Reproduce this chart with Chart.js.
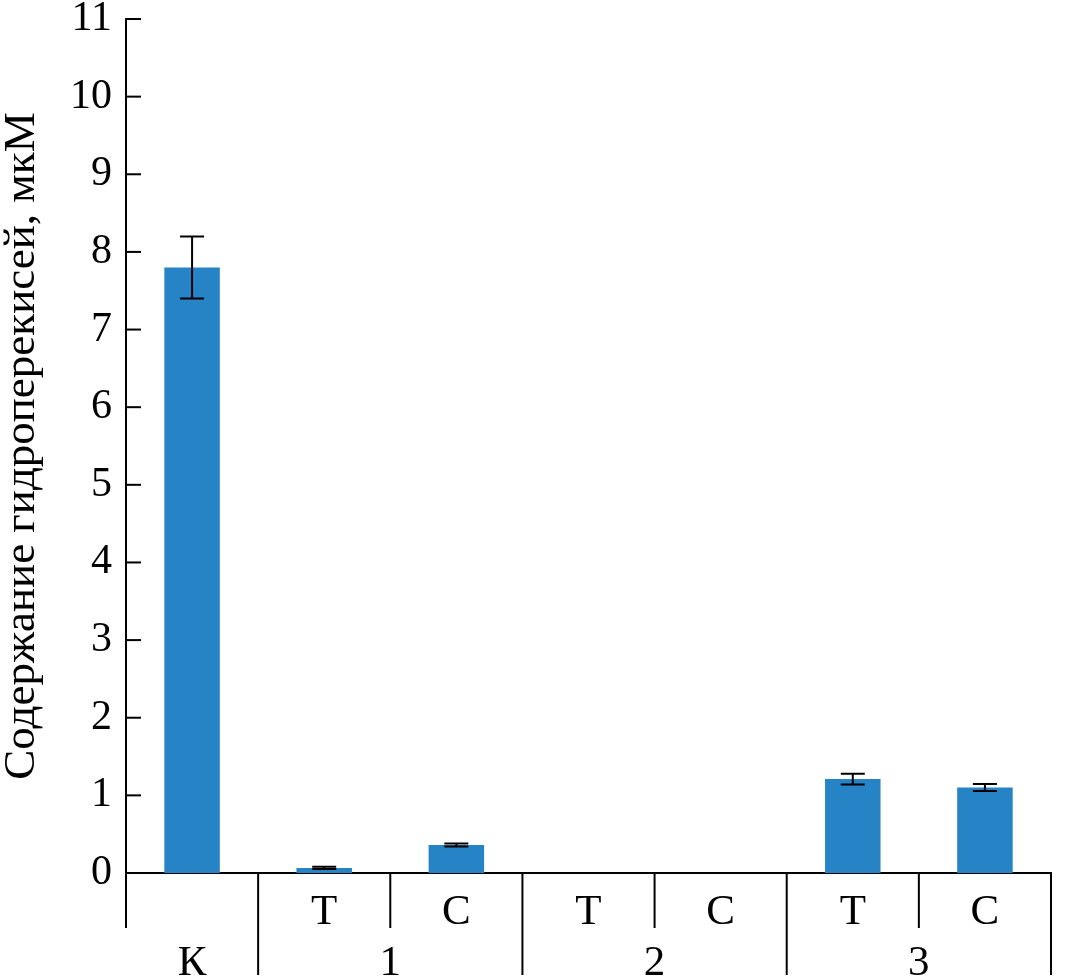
<!DOCTYPE html>
<html>
<head>
<meta charset="utf-8">
<script src="https://cdn.jsdelivr.net/npm/chart.js@4.4.1/dist/chart.umd.min.js"></script>
<style>
  html, body { margin: 0; padding: 0; background: #fff; }
  #wrap { width: 1069px; height: 980px; }
</style>
</head>
<body>
<div id="wrap"><canvas id="chart" width="1069" height="980"></canvas></div>
<script>
// data
const categories = ['', 'Т', 'С', 'Т', 'С', 'Т', 'С'];
const groups = ['К', '1', '2', '3'];
const groupSpans = [1, 2, 2, 2]; // how many categories each group covers
const values = [7.8, 0.065, 0.36, 0, 0, 1.21, 1.1];
const errors = [0.4, 0.015, 0.02, 0, 0, 0.07, 0.045];
const yTicks = [0, 1, 2, 3, 4, 5, 6, 7, 8, 9, 10, 11];
const yTitle = 'Содержание гидроперекисей, мкМ';

const FONT = '"Liberation Serif", "Times New Roman", serif';

const errorBars = {
  id: 'errorBars',
  afterDatasetsDraw(chart) {
    const { ctx, scales: { x, y } } = chart;
    ctx.save();
    ctx.strokeStyle = '#000';
    ctx.lineWidth = 2;
    values.forEach((v, i) => {
      if (!errors[i]) return;
      const cx = x.getPixelForValue(i);
      const top = y.getPixelForValue(v + errors[i]);
      const bot = y.getPixelForValue(v - errors[i]);
      ctx.beginPath();
      ctx.moveTo(cx, top); ctx.lineTo(cx, bot);
      ctx.moveTo(cx - 12, top); ctx.lineTo(cx + 12, top);
      ctx.moveTo(cx - 12, bot); ctx.lineTo(cx + 12, bot);
      ctx.stroke();
    });
    ctx.restore();
  }
};

const axisExtras = {
  id: 'axisExtras',
  afterDraw(chart) {
    const { ctx, chartArea, scales: { x, y } } = chart;
    const base = chartArea.bottom;
    ctx.save();
    ctx.strokeStyle = '#000';
    ctx.lineWidth = 2;

    // inward y ticks
    yTicks.forEach(t => {
      const py = y.getPixelForValue(t);
      ctx.beginPath();
      ctx.moveTo(chartArea.left, py);
      ctx.lineTo(chartArea.left + 15, py);
      ctx.stroke();
    });

    // separators between categories
    const edge = i => {
      if (i === 0) return chartArea.left;
      if (i === categories.length) return chartArea.right;
      return (x.getPixelForValue(i - 1) + x.getPixelForValue(i)) / 2;
    };
    const groupEdges = [];
    let acc = 0;
    groupSpans.forEach(s => { acc += s; groupEdges.push(acc); });
    for (let i = 0; i <= categories.length; i++) {
      const long = groupEdges.includes(i);
      ctx.beginPath();
      ctx.moveTo(edge(i), base);
      ctx.lineTo(edge(i), long ? base + 102 : base + 55);
      ctx.stroke();
    }

    // group labels
    ctx.fillStyle = '#000';
    ctx.font = '43px ' + FONT;
    ctx.textAlign = 'center';
    ctx.textBaseline = 'alphabetic';
    let start = 0;
    groups.forEach((g, k) => {
      const end = start + groupSpans[k];
      const cx = (edge(start) + edge(end)) / 2;
      ctx.fillText(g, cx, base + 102);
      start = end;
    });
    ctx.restore();
  }
};

new Chart(document.getElementById('chart'), {
  type: 'bar',
  data: {
    labels: categories,
    datasets: [{
      data: values,
      backgroundColor: 'rgb(38, 131, 198)',
      borderWidth: 0,
      categoryPercentage: 1,
      barPercentage: 0.42
    }]
  },
  options: {
    responsive: false,
    animation: false,
    layout: { padding: { top: 0, right: 18, left: 0, bottom: 0 } },
    plugins: {
      legend: { display: false },
      tooltip: { enabled: false }
    },
    scales: {
      x: {
        grid: { display: false, drawTicks: false },
        border: { display: true, color: '#000', width: 2 },
        ticks: {
          color: '#000',
          font: { family: FONT, size: 43 },
          padding: 14,
          maxRotation: 0,
          autoSkip: false
        },
        afterFit(scale) { scale.height = 107; }
      },
      y: {
        min: 0,
        max: 11,
        afterBuildTicks(scale) { scale.ticks = yTicks.map(v => ({ value: v })); },
        grid: { display: false, drawTicks: false },
        border: { display: true, color: '#000', width: 2 },
        ticks: {
          color: '#000',
          font: { family: FONT, size: 42 },
          padding: 14
        },
        title: {
          display: true,
          text: yTitle,
          color: '#000',
          font: { family: FONT, size: 45, lineHeight: 1 },
          padding: { top: 0, bottom: 0 }
        },
        afterFit(scale) {
          scale.width = 126;
          scale.paddingTop = 19;
          scale.paddingBottom = 0;
        }
      }
    }
  },
  plugins: [errorBars, axisExtras]
});
</script>
</body>
</html>
